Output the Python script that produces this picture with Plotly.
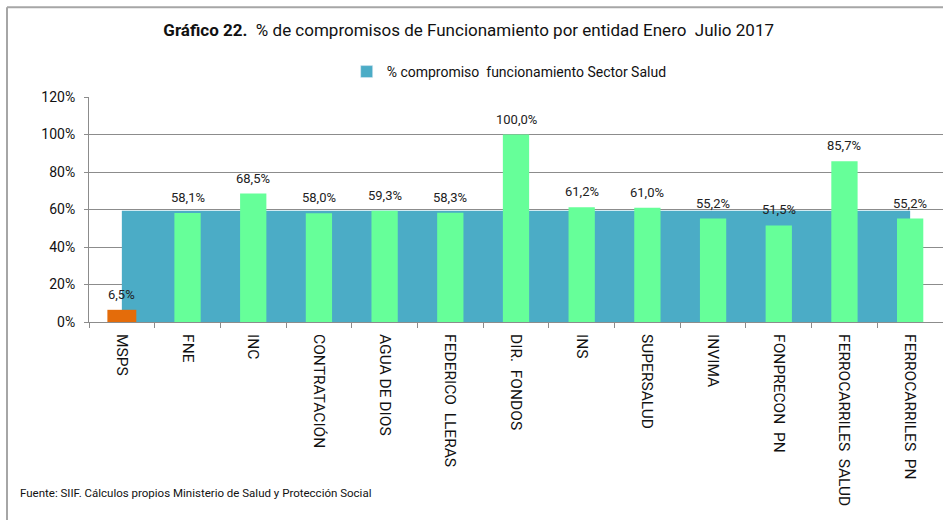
import plotly.graph_objects as go

# ---- data ----
categorias = ["MSPS", "FNE", "INC", "CONTRATACIÓN", "AGUA DE DIOS", "FEDERICO  LLERAS",
              "DIR.  FONDOS", "INS", "SUPERSALUD", "INVIMA", "FONPRECON  PN",
              "FERROCARRILES  SALUD", "FERROCARRILES  PN"]
compromiso_entidad = [6.5, 58.1, 68.5, 58.0, 59.3, 58.3, 100.0, 61.2, 61.0, 55.2, 51.5, 85.7, 55.2]
compromiso_sector = [59.4, 59.4, 59.4, 59.4, 59.4, 59.4, 59.4, 59.4, 59.4, 59.4, 59.4, 59.4, 59.4]
ticks_y = [0, 20, 40, 60, 80, 100, 120]
nombre_sector = "% compromiso  funcionamiento Sector Salud"

# ---- styles ----
TEAL = "#4BACC6"
GREEN = "#66FF99"
ORANGE = "#E46C0A"
GRID = "#8C8C8C"
FONT = "Roboto, sans-serif"

colores = [ORANGE if c == "MSPS" else GREEN for c in categorias]
anchos = [0.44 if c == "MSPS" else 0.4 for c in categorias]

fig = go.Figure()
# sector area (behind the bars)
fig.add_trace(go.Scatter(
    x=categorias, y=compromiso_sector, fill="tozeroy", mode="none",
    fillcolor=TEAL, name=nombre_sector, xaxis="x", yaxis="y",
    showlegend=False, hoverinfo="skip"))
# legend entry (square swatch)
fig.add_trace(go.Bar(x=[None], y=[None], marker=dict(color=TEAL), name=nombre_sector,
                     showlegend=True, xaxis="x", yaxis="y"))
# entity bars, drawn on overlaid axes so they sit on top of the area
fig.add_trace(go.Bar(
    x=categorias, y=compromiso_entidad, marker=dict(color=colores, line=dict(width=0)),
    width=anchos, showlegend=False, xaxis="x2", yaxis="y2"))

for c, v in zip(categorias, compromiso_entidad):
    fig.add_annotation(x=c, y=v, xref="x2", yref="y2",
                       text=f"{v:.1f}".replace(".", ",") + "%",
                       showarrow=False, yanchor="middle", yshift=15.5,
                       font=dict(size=13, family=FONT, color="#222222"))

n = len(categorias)
fig.update_layout(
    width=943, height=520,
    margin=dict(l=89, r=0, t=97, b=198),
    paper_bgcolor="white", plot_bgcolor="white",
    separators=",.",
    font=dict(family=FONT, size=13, color="#222222"),
    title=dict(
        text="<b>Gráfico 22.</b>  % de compromisos de Funcionamiento por entidad Enero  Julio 2017",
        x=0.497, xref="container", xanchor="center",
        y=1 - 30 / 520, yref="container", yanchor="middle",
        font=dict(size=17, family=FONT, color="#111111")),
    legend=dict(orientation="h", x=0.492, xanchor="center",
                y=1 - 72 / 520, yref="container", yanchor="middle",
                font=dict(size=14, family=FONT, color="#111111"), itemwidth=30),
    xaxis=dict(type="category", categoryorder="array", categoryarray=categorias,
               range=[-0.5, n - 0.5], showgrid=False, showline=True,
               linecolor=GRID, linewidth=1, ticks="outside", tickson="boundaries",
               ticklen=5, tickcolor=GRID, tickangle=90, ticklabelstandoff=8,
               tickfont=dict(size=15.5, family=FONT, color="#111111")),
    yaxis=dict(range=[0, 120], tickmode="array", tickvals=ticks_y,
               ticktext=[f"{t}%" for t in ticks_y],
               showgrid=True, gridcolor=GRID, gridwidth=1,
               showline=True, linecolor=GRID, ticks="outside", ticklen=4,
               tickcolor=GRID, zeroline=False, ticklabelstandoff=6,
               tickfont=dict(size=14, family=FONT, color="#111111")),
    xaxis2=dict(type="category", categoryorder="array", categoryarray=categorias,
                range=[-0.5, n - 0.5], overlaying="x", visible=False),
    yaxis2=dict(range=[0, 120], overlaying="y", visible=False),
    barmode="overlay",
)

# footer
fig.add_annotation(text="Fuente: SIIF. Cálculos propios Ministerio de Salud y Protección Social",
                   xref="paper", yref="paper", x=(18 - 89) / 854, y=(321.7 - 493) / 224.9,
                   xanchor="left", yanchor="middle", showarrow=False,
                   font=dict(size=11.5, family=FONT, color="#111111"))

# outer chart border (top and left edges visible)
bx = (7 - 89) / 854
by = (321.7 - 7) / 224.9
fig.add_shape(type="line", xref="paper", yref="paper", x0=bx, x1=1.01, y0=by, y1=by,
              line=dict(color="#A6A6A6", width=2))
fig.add_shape(type="line", xref="paper", yref="paper", x0=bx, x1=bx, y0=by, y1=-1.0,
              line=dict(color="#A6A6A6", width=2))

fig.write_html("out.html", config={"displayModeBar": False},
               post_script="document.body.style.margin='0px';")
